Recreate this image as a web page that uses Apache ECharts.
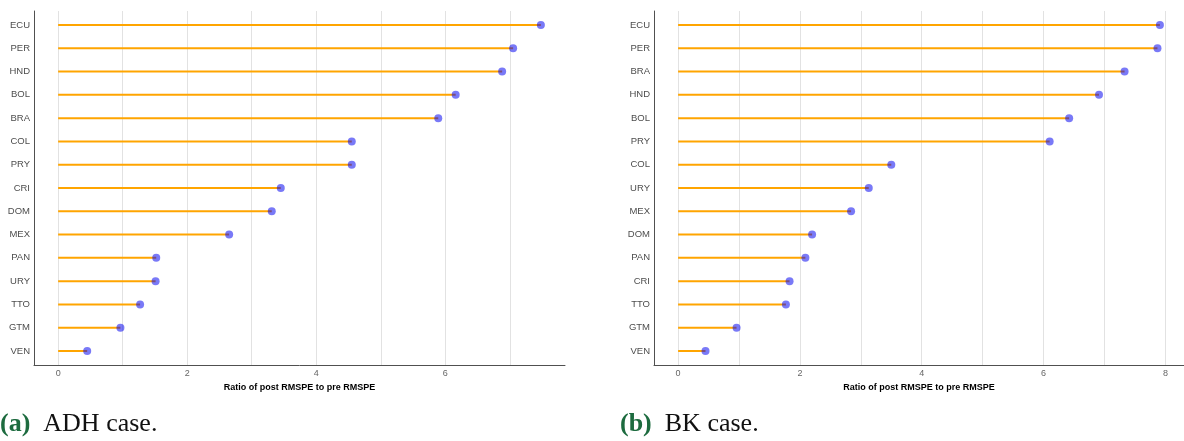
<!DOCTYPE html>
<html>
<head>
<meta charset="utf-8">
<script src="https://cdn.jsdelivr.net/npm/echarts@6/dist/echarts.min.js"></script>
<style>
  html, body { margin: 0; padding: 0; background: #ffffff; }
  #chart { width: 1184px; height: 441px; }
</style>
</head>
<body>
<div id="chart"></div>
<script>
// Placebo ratios of post- to pre-treatment RMSPE, ADH case
const adhCountries = ['ECU', 'PER', 'HND', 'BOL', 'BRA', 'COL', 'PRY', 'CRI', 'DOM', 'MEX', 'PAN', 'URY', 'TTO', 'GTM', 'VEN'];
const adhRatios = [7.48, 7.05, 6.88, 6.16, 5.89, 4.55, 4.55, 3.45, 3.31, 2.65, 1.52, 1.51, 1.27, 0.965, 0.45];
const adhTicks = [0, 2, 4, 6];

// Placebo ratios of post- to pre-treatment RMSPE, BK case
const bkCountries = ['ECU', 'PER', 'BRA', 'HND', 'BOL', 'PRY', 'COL', 'URY', 'MEX', 'DOM', 'PAN', 'CRI', 'TTO', 'GTM', 'VEN'];
const bkRatios = [7.91, 7.87, 7.33, 6.91, 6.42, 6.10, 3.50, 3.13, 2.84, 2.20, 2.09, 1.83, 1.77, 0.96, 0.45];
const bkTicks = [0, 2, 4, 6, 8];

const axisTitle = 'Ratio of post RMSPE to pre RMSPE';
const captions = [
  { label: '(a)', text: 'ADH case.' },
  { label: '(b)', text: 'BK case.' }
];

const SEG_COLOR = '#FFA500';
const DOT_COLOR = 'rgba(0, 0, 240, 0.66)';
const GRID_COLOR = '#e2e2e2';
const AXIS_COLOR = '#505050';
const TEXT_COLOR = '#4d4d4d';

function range(n) { return Array.from({ length: n }, (_, i) => i); }

function xAxisFor(values, ticks, gridIndex) {
  const top = Math.max(...values);
  const pad = top * 0.05;
  const gridVals = range(Math.floor(top + pad) + 1);
  return {
    type: 'value',
    gridIndex: gridIndex,
    min: -pad,
    max: top + pad,
    name: axisTitle,
    nameLocation: 'middle',
    nameGap: 18,
    nameTextStyle: { fontFamily: 'Liberation Sans', fontSize: 9, fontWeight: 'bold', color: '#000000' },
    axisLine: { show: true, onZero: false, lineStyle: { color: AXIS_COLOR, width: 1 } },
    axisTick: { show: false, customValues: gridVals },
    axisLabel: {
      customValues: ticks,
      margin: 4,
      fontFamily: 'Liberation Sans',
      fontSize: 9,
      color: '#666666',
      formatter: v => String(v)
    },
    splitLine: { show: true, lineStyle: { color: GRID_COLOR, width: 1 } }
  };
}

function yAxisFor(names, gridIndex) {
  return {
    type: 'value',
    gridIndex: gridIndex,
    inverse: true,
    min: -0.6,
    max: names.length - 1 + 0.6,
    axisLine: { show: true, onZero: false, lineStyle: { color: AXIS_COLOR, width: 1 } },
    axisTick: { show: false, customValues: range(names.length) },
    axisLabel: {
      customValues: range(names.length),
      margin: 4,
      fontFamily: 'Liberation Sans',
      fontSize: 9.5,
      color: TEXT_COLOR,
      formatter: v => names[Math.round(v)]
    },
    splitLine: { show: false }
  };
}

function stemSeries(values, axisIndex) {
  return {
    type: 'custom',
    xAxisIndex: axisIndex,
    yAxisIndex: axisIndex,
    encode: { x: 0, y: 1 },
    data: values.map((v, i) => [v, i]),
    renderItem: function (params, api) {
      const start = api.coord([0, api.value(1)]);
      const end = api.coord([api.value(0), api.value(1)]);
      return {
        type: 'line',
        shape: { x1: start[0], y1: start[1], x2: end[0], y2: end[1] },
        style: { stroke: SEG_COLOR, lineWidth: 2 }
      };
    },
    silent: true,
    z: 2
  };
}

function dotSeries(values, axisIndex) {
  return {
    type: 'scatter',
    xAxisIndex: axisIndex,
    yAxisIndex: axisIndex,
    data: values.map((v, i) => [v, i]),
    symbol: 'circle',
    symbolSize: 8,
    itemStyle: { color: DOT_COLOR },
    silent: true,
    z: 3
  };
}

function captionText(c, x) {
  return {
    type: 'text',
    left: x,
    top: 411,
    style: {
      text: '{lab|' + c.label + '}  ' + c.text,
      font: '26px "Liberation Serif"',
      fill: '#111111',
      rich: {
        lab: { font: 'bold 26px "Liberation Serif"', fill: '#1d6b3f' }
      }
    }
  };
}

const chart = echarts.init(document.getElementById('chart'), null, { renderer: 'canvas' });
chart.setOption({
  animation: false,
  backgroundColor: '#ffffff',
  grid: [
    { left: 34, right: 619, top: 11, bottom: 76, containLabel: false },
    { left: 654, right: 0, top: 11, bottom: 76, containLabel: false }
  ],
  xAxis: [xAxisFor(adhRatios, adhTicks, 0), xAxisFor(bkRatios, bkTicks, 1)],
  yAxis: [yAxisFor(adhCountries, 0), yAxisFor(bkCountries, 1)],
  series: [
    stemSeries(adhRatios, 0), dotSeries(adhRatios, 0),
    stemSeries(bkRatios, 1), dotSeries(bkRatios, 1)
  ],
  graphic: [captionText(captions[0], 0), captionText(captions[1], 620)]
});
</script>
</body>
</html>
